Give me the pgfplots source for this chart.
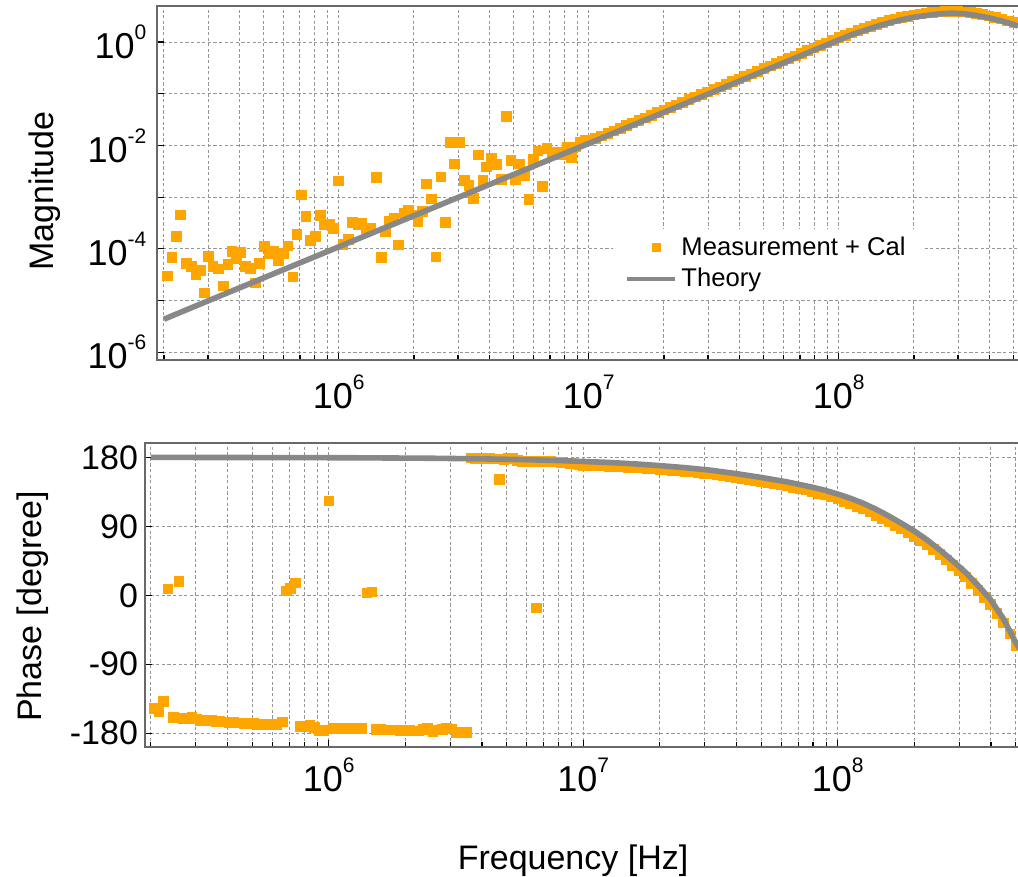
\documentclass[border=0pt]{standalone}
\usepackage{fontspec}
\setmainfont{Liberation Sans}
\usepackage{pgfplots}
\usepackage{pgfplotstable}
\pgfplotsset{compat=1.18}
\definecolor{morange}{RGB}{255,165,0}
\definecolor{mgrey}{RGB}{136,136,136}
\definecolor{gridc}{RGB}{150,150,150}
\definecolor{framec}{RGB}{105,105,105}
\newcommand{\tp}[1]{10\raisebox{9.5pt}{\fontsize{10.5}{11}\selectfont #1}}

\pgfplotstableread{
f m p
2.065e5 3.020e-5 -147.4
2.148e5 6.918e-5 -151.8
2.234e5 1.738e-4 -137.8
2.328e5 4.571e-4 8.6
2.449e5 5.248e-5 -159.2
2.576e5 4.677e-5 18.6
2.679e5 3.162e-5 -160.5
2.786e5 3.890e-5 -160.0
2.891e5 1.413e-5 -159.2
3.013e5 7.244e-5 -161.0
3.133e5 4.677e-5 -162.7
3.304e5 4.169e-5 -162.7
3.443e5 1.950e-5 -163.0
3.597e5 5.012e-5 -163.9
3.733e5 9.120e-5 -164.3
3.882e5 6.457e-5 -164.8
4.055e5 8.710e-5 -165.2
4.217e5 4.571e-5 -165.7
4.416e5 4.266e-5 -166.3
4.624e5 2.239e-5 -167.0
4.819e5 5.248e-5 -167.0
5.047e5 1.122e-4 -167.0
5.260e5 8.318e-5 -167.8
5.483e5 9.120e-5 -168.0
5.741e5 5.888e-5 -168.3
6.012e5 8.318e-5 -168.3
6.252e5 1.148e-4 -168.0
6.546e5 2.884e-5 -164.8
6.792e5 1.905e-4 6.0
7.063e5 1.122e-3 9.1
7.379e5 4.266e-4 16.5
7.709e5 1.479e-4 -170.5
8.035e5 1.778e-4 -170.5
8.414e5 4.467e-4 -169.2
8.770e5 3.020e-4 -172.0
9.141e5 3.020e-4 -176.0
9.528e5 2.512e-4 -176.3
9.977e5 2.089e-3 123.4
1.038e6 1.230e-4 -173.0
1.089e6 1.549e-4 -173.0
1.135e6 3.311e-4 -173.0
1.189e6 3.020e-4 -172.8
1.236e6 3.162e-4 -173.0
1.285e6 2.455e-4 -173.0
1.343e6 2.570e-4 -173.0
1.409e6 2.455e-3 3.4
1.476e6 6.918e-5 4.7
1.531e6 2.188e-4 -174.4
1.596e6 3.467e-4 -175.0
1.660e6 3.890e-4 -175.2
1.734e6 1.202e-4 -175.2
1.816e6 5.012e-4 -175.5
1.901e6 5.623e-4 -176.1
1.991e6 4.571e-4 -176.1
2.070e6 3.388e-4 -176.1
2.163e6 5.370e-4 -176.5
2.244e6 1.820e-3 -176.5
2.339e6 9.333e-4 -175.0
2.443e6 7.079e-5 -173.4
2.559e6 2.512e-3 -178.2
2.673e6 3.311e-4 -175.5
2.786e6 1.148e-2 -174.3
2.891e6 4.467e-3 -173.4
3.027e6 1.148e-2 -174.0
3.170e6 2.138e-3 -178.6
3.311e6 1.698e-3 -178.6
3.459e6 9.550e-4 -178.6
3.606e6 6.607e-3 179.5
3.767e6 2.138e-3 178.5
3.899e6 3.890e-3 178.0
4.064e6 5.623e-3 179.5
4.285e6 4.365e-3 178.6
4.457e6 2.239e-3 178.0
4.667e6 3.715e-2 151.7
4.875e6 5.129e-3 177.3
5.070e6 2.239e-3 178.5
5.260e6 4.467e-3 179.5
5.508e6 2.692e-3 176.5
5.754e6 9.120e-4 174.5
6.012e6 5.370e-3 175.0
6.252e6 7.943e-3 175.2
6.531e6 1.622e-3 -16.2
6.792e6 8.913e-3 175.0
7.112e6 6.607e-3 175.2
7.447e6 7.586e-3 174.8
7.798e6 6.607e-3 174.3
8.166e6 9.550e-3 173.6
8.492e6 5.888e-3 173.0
8.872e6 9.550e-3 172.5
9.226e6 1.148e-2 171.8
9.661e6 1.259e-2 171.0
1.000e7 1.230e-2 170.1
1.059e7 1.380e-2 169.8
1.122e7 1.549e-2 169.5
1.189e7 1.738e-2 169.1
1.259e7 1.950e-2 168.8
1.334e7 2.188e-2 168.4
1.413e7 2.455e-2 167.9
1.496e7 2.754e-2 167.5
1.585e7 3.090e-2 167.0
1.679e7 3.467e-2 166.4
1.778e7 3.890e-2 165.9
1.884e7 4.365e-2 165.3
1.995e7 4.898e-2 164.7
2.113e7 5.495e-2 164.0
2.239e7 6.166e-2 163.4
2.371e7 6.918e-2 162.7
2.512e7 7.762e-2 162.0
2.661e7 8.710e-2 161.2
2.818e7 9.772e-2 160.4
2.985e7 0.1096 159.5
3.162e7 0.1230 158.7
3.350e7 0.1380 157.6
3.548e7 0.1549 156.5
3.758e7 0.1738 155.4
3.981e7 0.1950 154.3
4.217e7 0.2188 153.0
4.467e7 0.2455 151.7
4.732e7 0.2754 150.3
5.012e7 0.3090 149.0
5.309e7 0.3467 147.5
5.623e7 0.3890 146.0
5.957e7 0.4365 144.5
6.310e7 0.4898 143.0
6.683e7 0.5495 141.3
7.079e7 0.6166 139.5
7.499e7 0.6918 137.8
7.943e7 0.7762 135.5
8.414e7 0.8710 133.3
8.913e7 0.9772 131.0
9.441e7 1.096 128.6
1.000e8 1.230 126.0
1.059e8 1.365 123.0
1.122e8 1.514 119.8
1.189e8 1.679 116.4
1.259e8 1.862 112.8
1.334e8 2.042 108.8
1.413e8 2.213 104.6
1.496e8 2.427 100.3
1.585e8 2.630 96.0
1.679e8 2.818 91.5
1.778e8 3.020 86.8
1.884e8 3.199 82.0
1.995e8 3.388 77.0
2.113e8 3.548 71.5
2.239e8 3.673 65.8
2.371e8 3.802 59.8
2.512e8 3.890 53.4
2.661e8 3.981 46.6
2.818e8 3.981 39.5
2.985e8 3.981 32.2
3.162e8 3.890 24.5
3.350e8 3.758 16.0
3.548e8 3.589 7.0
3.758e8 3.428 -2.5
3.981e8 3.236 -12.0
4.217e8 3.020 -23.5
4.467e8 2.818 -35.5
4.732e8 2.600 -50.0
5.012e8 2.399 -65.0
}\meas

\pgfplotstableread{
f m p
2.000e5 4.365e-6 179.9
2.512e5 6.918e-6 179.9
3.162e5 1.096e-5 179.8
3.981e5 1.738e-5 179.8
5.012e5 2.754e-5 179.7
6.310e5 4.365e-5 179.7
7.943e5 6.918e-5 179.6
1.000e6 1.096e-4 179.5
1.259e6 1.738e-4 179.4
1.585e6 2.754e-4 179.2
1.995e6 4.365e-4 179.0
2.512e6 6.918e-4 178.8
3.162e6 1.096e-3 178.4
3.981e6 1.738e-3 178.0
5.012e6 2.754e-3 177.4
6.310e6 4.365e-3 176.7
7.943e6 6.918e-3 175.8
1.000e7 1.096e-2 174.6
1.259e7 1.738e-2 173.3
1.585e7 2.754e-2 171.5
1.995e7 4.365e-2 169.2
2.512e7 6.918e-2 166.5
3.162e7 0.1096 163.2
3.981e7 0.1738 158.8
5.012e7 0.2754 153.7
6.310e7 0.4365 148.0
7.943e7 0.6918 141.0
8.913e7 0.8710 137.0
1.000e8 1.096 132.0
1.122e8 1.380 126.5
1.259e8 1.660 120.0
1.413e8 1.995 112.3
1.585e8 2.344 103.5
1.778e8 2.692 94.0
1.995e8 3.020 84.0
2.239e8 3.273 72.5
2.512e8 3.508 59.5
2.818e8 3.631 45.5
3.162e8 3.548 30.5
3.548e8 3.273 13.5
3.981e8 2.951 -5.5
4.467e8 2.570 -30.0
5.012e8 2.188 -62.0
5.200e8 2.042 -70.0
}\theory

\pgfplotsset{
  mycommon/.style={
    scale only axis, anchor=south west,
    clip marker paths=true,
    xtick={1e6,1e7,1e8},
    xticklabels={\tp{6},\tp{7},\tp{8}},
    minor xtick={2e5,3e5,4e5,5e5,6e5,7e5,8e5,9e5,2e6,3e6,4e6,5e6,6e6,7e6,8e6,9e6,2e7,3e7,4e7,5e7,6e7,7e7,8e7,9e7,2e8,3e8,4e8,5e8},
    xmajorgrids=true, xminorgrids=true, ymajorgrids=true, yminorgrids=false,
    yminorticks=false,
    major grid style={gridc, line width=0.5pt, dash pattern=on 1.6pt off 1.2pt},
    minor grid style={gridc, line width=0.5pt, dash pattern=on 1.6pt off 1.2pt},
    axis line style={framec, line width=1pt},
    tick style={black, line width=0.6pt},
    major tick length=3.5pt, minor tick length=2.5pt,
    tick pos=left, tick align=inside,
    ticklabel style={font=\fontsize{18}{20}\selectfont},
    label style={font=\fontsize{17}{20}\selectfont},
  }
}

\begin{document}
\begin{tikzpicture}
\useasboundingbox (0,0) rectangle (509pt,438.5pt);

\begin{axis}[xmode=log, ymode=log, mycommon,
  at={(78.65pt,258.5pt)}, width=431.85pt, height=177.15pt,
  xmin=1.881e5, xmax=5.36e8, ymin=7.1e-7, ymax=5.06,
  ytick={1e-6,1e-5,1e-4,1e-3,1e-2,1e-1,1},
  yticklabels={\tp{-6},,\tp{-4},,\tp{-2},,\tp{0}},
  xticklabel style={yshift=-4pt},
  yticklabel style={xshift=-2pt},
  ylabel={Magnitude},
  ylabel style={at={(axis description cs:-0.1200,0.477)}, anchor=base},
  legend style={at={(axis description cs:0.527,0.372)}, anchor=north west,
    draw=none, fill=white, inner xsep=6pt, inner ysep=2pt,
    font=\fontsize{12.8}{14}\selectfont, row sep=1pt},
  legend cell align=left,
]
\addplot[only marks, mark=square*, mark size=2.4pt, color=morange,
  mark options={fill=morange, draw=morange, line width=0.2pt},
  legend image code/.code={\node[fill=morange, inner sep=0pt, minimum size=4.5pt] at (12pt,0pt) {};}]
  table[x=f, y=m] {\meas};
\addlegendentry{Measurement + Cal}
\addplot[mgrey, line width=2.8pt, line join=round,
  legend image code/.code={\draw[mgrey, line width=2.3pt] (0pt,0pt) -- (24pt,0pt);}]
  table[x=f, y=m] {\theory};
\addlegendentry{Theory}
\end{axis}

\begin{axis}[xmode=log, mycommon,
  at={(72.5pt,65.15pt)}, width=438pt, height=151.7pt,
  xmin=1.897e5, xmax=5.25e8, ymin=-197.5, ymax=198.3,
  ytick={-180,-90,0,90,180},
  yticklabels={-180,-90,0,90,180},
  yticklabel style={font=\fontsize{17}{20}\selectfont, xshift=0pt},
  xticklabel style={yshift=-2pt},
  ylabel={Phase [degree]},
  ylabel style={at={(axis description cs:-0.1179,0.462)}, anchor=base},
  xlabel={Frequency [Hz]},
  xlabel style={at={(axis description cs:0.4886,-0.404)}, anchor=base},
]
\addplot[only marks, mark=square*, mark size=2.4pt, color=morange,
  mark options={fill=morange, draw=morange, line width=0.2pt}]
  table[x=f, y=p] {\meas};
\addplot[mgrey, line width=2.8pt, line join=round]
  table[x=f, y=p] {\theory};
\end{axis}
\end{tikzpicture}
\end{document}
